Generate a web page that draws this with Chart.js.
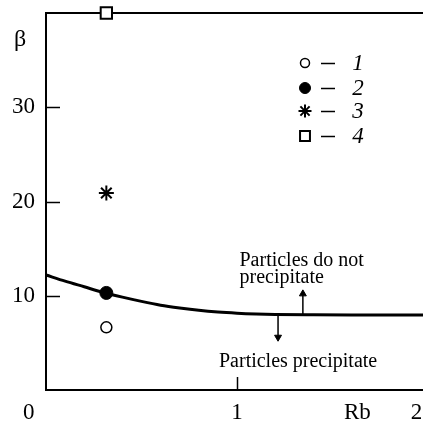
<!DOCTYPE html>
<html><head><meta charset="utf-8">
<script src="https://cdn.jsdelivr.net/npm/chart.js@4.4.1/dist/chart.umd.min.js"></script>
<style>html,body{margin:0;padding:0;background:#fff;overflow:hidden}</style>
</head><body>
<canvas id="c" width="423" height="424"></canvas>
<script>
// ---- data ----
const curveRb   = [0, 0.1, 0.2, 0.3, 0.4, 0.5, 0.6, 0.7, 0.8, 0.9, 1.0, 1.1, 1.2, 1.4, 1.6, 1.8, 2.0];
const curveBeta = [12.2, 11.55, 10.95, 10.35, 9.85, 9.4, 9.0, 8.7, 8.45, 8.27, 8.15, 8.07, 8.02, 7.98, 7.96, 7.95, 7.95];
const pointRb    = [0.316, 0.316, 0.316, 0.316];
const pointBeta  = [6.65, 10.3, 20.9, 40];
const seriesNames = ['1', '2', '3', '4'];
const yTickValues = [10, 20, 30];
const xTickValues = [-0.09, 1, 1.63, 1.94];
const xTickLabels = ['0', '1', 'Rb', '2'];
const xTickMarks  = [1];
const upArrowRb = 1.345,  upArrowBeta = [7.98, 10.2];
const downArrowRb = 1.215, downArrowBeta = [8.0, 5.6];
const textAbove = ['Particles do not', 'precipitate'];
const textBelow = 'Particles precipitate';

const SERIF = '"Liberation Serif", "DejaVu Serif", serif';
Chart.defaults.font.family = SERIF;
Chart.defaults.color = '#000';

const styles = [
  {pointStyle: 'circle', radius: 5.5, backgroundColor: '#fff', borderWidth: 1.5},
  {pointStyle: 'circle', radius: 6.5, backgroundColor: '#000', borderWidth: 1},
  {pointStyle: 'star', radius: 7.5, backgroundColor: '#000', borderWidth: 2},
  {pointStyle: 'rect', radius: 8, backgroundColor: '#fff', borderWidth: 2},
];
const legendStyles = [
  {pointStyle: 'circle', radius: 4.5, fill: '#fff', borderWidth: 1.5},
  {pointStyle: 'circle', radius: 5.5, fill: '#000', borderWidth: 1},
  {pointStyle: 'star', radius: 6.5, fill: '#000', borderWidth: 2},
  {pointStyle: 'rect', radius: 7, fill: '#fff', borderWidth: 2},
];

const pointSets = seriesNames.map((n, i) => ({
  label: n,
  data: [{x: pointRb[i], y: pointBeta[i]}],
  pointStyle: styles[i].pointStyle,
  pointRadius: styles[i].radius,
  pointBackgroundColor: styles[i].backgroundColor,
  pointBorderColor: '#000',
  pointBorderWidth: styles[i].borderWidth,
  showLine: false,
  clip: false
}));

function noPad(s) { s.paddingLeft = 0; s.paddingRight = 0; s.paddingTop = 0; s.paddingBottom = 0; }

const decor = {
  id: 'decor',
  afterDraw(chart) {
    const ctx = chart.ctx, xs = chart.scales.x, ys = chart.scales.y;
    const ca = chart.chartArea;
    ctx.save();
    ctx.strokeStyle = '#000';
    ctx.lineWidth = 1.5;
    // inward tick marks
    yTickValues.forEach(v => {
      const py = Math.round(ys.getPixelForValue(v)) + 0.5;
      ctx.beginPath(); ctx.moveTo(ca.left, py); ctx.lineTo(ca.left + 14, py); ctx.stroke();
    });
    xTickMarks.forEach(v => {
      const px = Math.round(xs.getPixelForValue(v)) + 0.5;
      ctx.beginPath(); ctx.moveTo(px, ca.bottom); ctx.lineTo(px, ca.bottom - 13); ctx.stroke();
    });
    // beta label
    ctx.fillStyle = '#000';
    ctx.font = '24px ' + SERIF;
    ctx.textAlign = 'center'; ctx.textBaseline = 'middle';
    ctx.fillText('β', 20, 40);
    // legend
    const lx = 305, rows = [63, 88, 111, 136];
    seriesNames.forEach((n, i) => {
      const s = legendStyles[i];
      ctx.fillStyle = s.fill; ctx.strokeStyle = '#000'; ctx.lineWidth = s.borderWidth;
      Chart.helpers.drawPoint(ctx, {pointStyle: s.pointStyle, radius: s.radius, rotation: 0, borderWidth: s.borderWidth}, lx, rows[i]);
      ctx.lineWidth = 1.5;
      ctx.beginPath(); ctx.moveTo(321, rows[i] + 0.5); ctx.lineTo(335, rows[i] + 0.5); ctx.stroke();
      ctx.fillStyle = '#000';
      ctx.font = 'italic 23px ' + SERIF;
      ctx.textAlign = 'center'; ctx.textBaseline = 'middle';
      ctx.fillText(n, 358, rows[i] + 1);
    });
    // annotations
    ctx.font = '20px ' + SERIF;
    ctx.textAlign = 'left'; ctx.textBaseline = 'alphabetic';
    ctx.fillText(textAbove[0], xs.getPixelForValue(1.013), ys.getPixelForValue(13.2));
    ctx.fillText(textAbove[1], xs.getPixelForValue(1.013), ys.getPixelForValue(11.3));
    ctx.textAlign = 'center';
    ctx.fillText(textBelow, xs.getPixelForValue(1.32), ys.getPixelForValue(2.4));
    ctx.restore();
  }
};

new Chart(document.getElementById('c'), {
  type: 'scatter',
  data: {
    datasets: [
      {
        label: 'curve',
        data: curveRb.map((x, i) => ({x, y: curveBeta[i]})),
        showLine: true, borderColor: '#000', borderWidth: 3, pointRadius: 0,
        cubicInterpolationMode: 'monotone', clip: false
      },
      ...pointSets,
      {
        label: 'up',
        data: upArrowBeta.map(y => ({x: upArrowRb, y})),
        showLine: true, borderColor: '#000', borderWidth: 1.5,
        pointRadius: [0, 4], pointStyle: 'triangle', rotation: 0,
        pointBackgroundColor: '#000', pointBorderColor: '#000', pointBorderWidth: 1
      },
      {
        label: 'down',
        data: downArrowBeta.map(y => ({x: downArrowRb, y})),
        showLine: true, borderColor: '#000', borderWidth: 1.5,
        pointRadius: [0, 4], pointStyle: 'triangle', rotation: 180,
        pointBackgroundColor: '#000', pointBorderColor: '#000', pointBorderWidth: 1
      }
    ]
  },
  plugins: [decor],
  options: {
    responsive: false,
    animation: false,
    events: [],
    layout: {autoPadding: false, padding: {top: 13, right: 0, left: 0, bottom: 0}},
    plugins: {legend: {display: false}, tooltip: {enabled: false}},
    scales: {
      x: {
        type: 'linear', min: 0, max: 1.974,
        afterFit(s) { s.height = 34; noPad(s); },
        afterBuildTicks(s) { s.ticks = xTickValues.map(v => ({value: v})); },
        grid: {display: false, drawTicks: false},
        border: {display: true, color: '#000', width: 2},
        ticks: {
          autoSkip: false, maxRotation: 0, padding: 9,
          font: {size: 23}, color: '#000',
          callback: (v, i) => xTickLabels[i]
        }
      },
      x2: {
        type: 'linear', position: 'top', min: 0, max: 1.974,
        afterFit(s) { s.height = 0; noPad(s); },
        grid: {display: false},
        border: {display: true, color: '#000', width: 2},
        ticks: {display: false}
      },
      y: {
        type: 'linear', min: 0, max: 40,
        afterFit(s) { s.width = 46; noPad(s); },
        grid: {display: false, drawTicks: false},
        border: {display: true, color: '#000', width: 2},
        ticks: {
          stepSize: 10, padding: 11, font: {size: 23}, color: '#000',
          callback: v => yTickValues.includes(v) ? String(v) : ''
        }
      }
    }
  }
});
</script>
</body></html>
